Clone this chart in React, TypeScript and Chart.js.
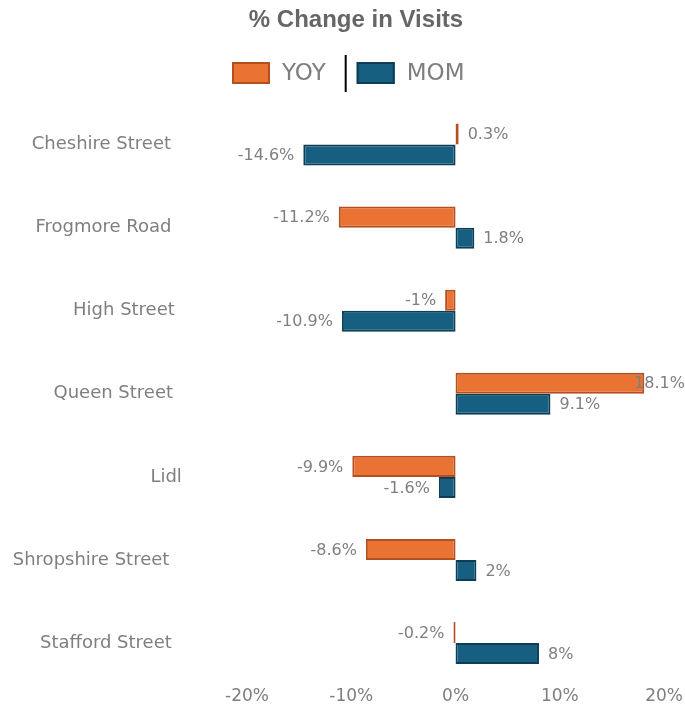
import React, { useEffect, useRef } from "react";
import { Chart, registerables } from "chart.js";
Chart.register(...registerables);

const categories = [
  "Cheshire Street",
  "Frogmore Road",
  "High Street",
  "Queen Street",
  "Lidl",
  "Shropshire Street",
  "Stafford Street",
];
const yoyValues = [0.3, -11.2, -1, 18.1, -9.9, -8.6, -0.2];
const momValues = [-14.6, 1.8, -10.9, 9.1, -1.6, 2, 8];
const seriesNames = ["YOY", "MOM"];
const titleText = "% Change in Visits";
const xMin = -20;
const xMax = 20;
const xStep = 10;

const ORANGE = "#EA7232";
const ORANGE_BORDER = "#B2501F";
const BLUE = "#175F80";
const BLUE_BORDER = "#0E3E57";
const GRAY = "#7f7f7f";
const FONT = "'DejaVu Sans', sans-serif";

const titleLegendPlugin = {
  id: "titleLegend",
  afterDraw(chart: any) {
    const ctx = chart.ctx;
    ctx.save();
    ctx.font = "bold 24px 'Liberation Sans', Arial, sans-serif";
    ctx.fillStyle = "#666666";
    ctx.textAlign = "center";
    ctx.textBaseline = "middle";
    ctx.fillText(titleText, 356, 20);

    ctx.font = "23px " + FONT;
    ctx.textAlign = "left";
    let x = 232;
    const y = 73;
    const items = [
      { name: seriesNames[0], fill: ORANGE, border: ORANGE_BORDER },
      { name: seriesNames[1], fill: BLUE, border: BLUE_BORDER },
    ];
    items.forEach((it, i) => {
      if (i > 0) {
        ctx.strokeStyle = "#000";
        ctx.lineWidth = 2;
        ctx.beginPath();
        ctx.moveTo(x + 1, 55);
        ctx.lineTo(x + 1, 92);
        ctx.stroke();
        x += 12;
      }
      ctx.fillStyle = it.fill;
      ctx.fillRect(x, y - 11, 38, 22);
      ctx.strokeStyle = it.border;
      ctx.lineWidth = 2;
      ctx.strokeRect(x + 1, y - 10, 36, 20);
      x += 50;
      ctx.fillStyle = GRAY;
      ctx.fillText(it.name, x, y + 1);
      x += ctx.measureText(it.name).width + 19;
    });
    ctx.restore();
  },
};

const categoryLabelPlugin = {
  id: "categoryLabels",
  afterDraw(chart: any) {
    const ctx = chart.ctx;
    const yScale = chart.scales.y;
    ctx.save();
    ctx.font = "18px " + FONT;
    ctx.fillStyle = GRAY;
    ctx.textAlign = "right";
    ctx.textBaseline = "middle";
    const right = chart.chartArea.left - 62;
    categories.forEach((c, i) => {
      const w = ctx.measureText(c).width;
      ctx.fillText(c, right - w * 0.1, yScale.getPixelForValue(i));
    });
    ctx.restore();
  },
};

const dataLabelPlugin = {
  id: "dataLabels",
  afterDatasetsDraw(chart: any) {
    const ctx = chart.ctx;
    ctx.save();
    ctx.font = "16px " + FONT;
    ctx.fillStyle = GRAY;
    ctx.textBaseline = "middle";
    chart.data.datasets.forEach((ds: any, di: number) => {
      const meta = chart.getDatasetMeta(di);
      meta.data.forEach((el: any, i: number) => {
        const v = ds.data[i];
        const txt = v + "%";
        const w = ctx.measureText(txt).width;
        let x: number;
        if (v >= 0) {
          x = el.x + 9;
          if (x + w > chart.width) x = chart.width - w;
        } else {
          x = el.x - 9 - w;
          if (x < 0) x = 0;
        }
        ctx.textAlign = "left";
        ctx.fillText(txt, x, el.y + 1);
      });
    });
    ctx.restore();
  },
};

export default function App() {
  const ref = useRef<HTMLCanvasElement | null>(null);
  useEffect(() => {
    if (!ref.current) return;
    const chart = new Chart(ref.current, {
      type: "bar",
      data: {
        labels: categories,
        datasets: [
          {
            label: seriesNames[0],
            data: yoyValues,
            backgroundColor: ORANGE,
            borderColor: ORANGE_BORDER,
            borderWidth: 2,
            borderSkipped: false,
            categoryPercentage: 0.506,
            barPercentage: 1,
          },
          {
            label: seriesNames[1],
            data: momValues,
            backgroundColor: BLUE,
            borderColor: BLUE_BORDER,
            borderWidth: 2,
            borderSkipped: false,
            categoryPercentage: 0.506,
            barPercentage: 1,
          },
        ],
      },
      options: {
        indexAxis: "y",
        animation: false,
        responsive: false,
        maintainAspectRatio: false,
        layout: { padding: { top: 103, left: 19, right: 15, bottom: 0 } },
        plugins: {
          legend: { display: false },
          title: { display: false },
          tooltip: { enabled: false },
        },
        scales: {
          x: {
            min: xMin,
            max: xMax,
            grid: { display: false, drawTicks: false },
            border: { display: false },
            ticks: {
              stepSize: xStep,
              color: GRAY,
              font: { family: FONT, size: 17 },
              padding: 2,
              callback: (v: any) => v + "%",
            },
          },
          y: {
            grid: { display: false, drawTicks: false },
            border: { display: false },
            afterFit: (scale: any) => {
              scale.width = 228;
            },
            ticks: { display: false },
          },
        },
      },
      plugins: [titleLegendPlugin, categoryLabelPlugin, dataLabelPlugin],
    });
    return () => chart.destroy();
  }, []);
  return (
    <div style={{ position: "absolute", left: 0, top: 0, width: 685, height: 709 }}>
      <canvas ref={ref} width={685} height={709} style={{ display: "block" }} />
    </div>
  );
}
